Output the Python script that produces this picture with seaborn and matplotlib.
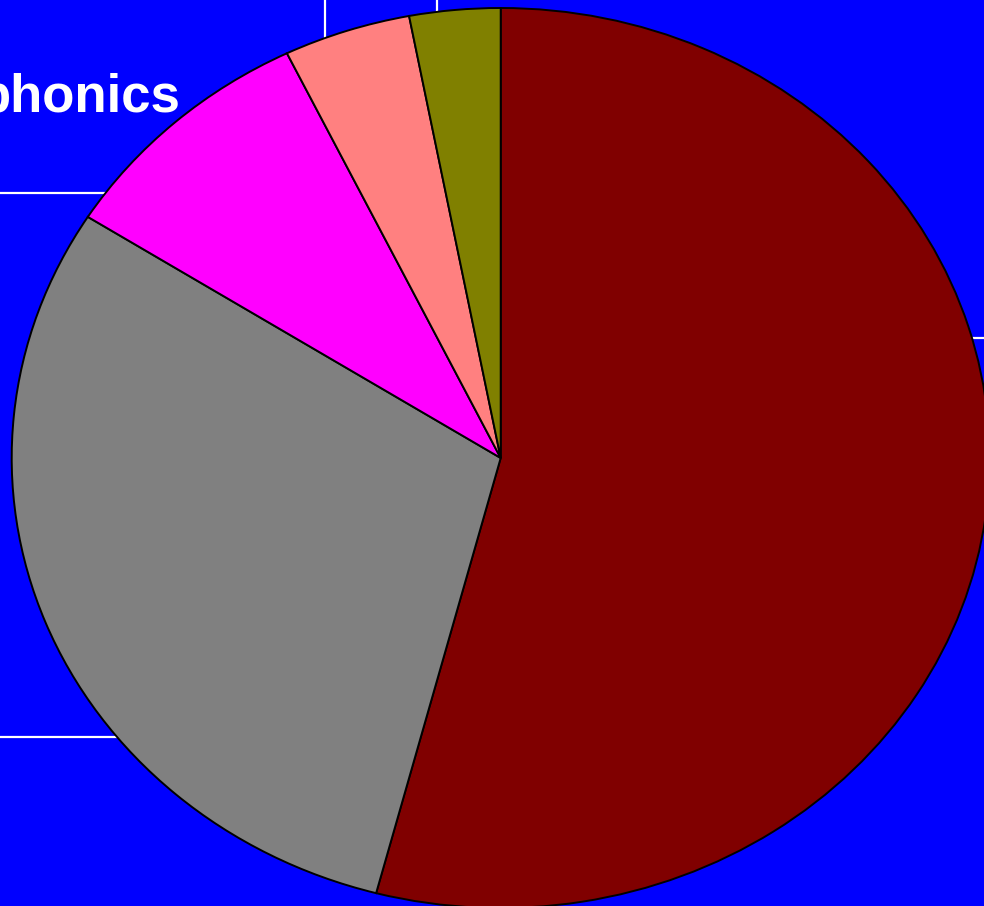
import matplotlib
matplotlib.use("Agg")
import matplotlib.pyplot as plt
import seaborn as sns

# Slice data (clockwise from 12 o'clock)
labels = ['Slice A', 'Slice B', 'Slice C', 'Slice D', 'Slice E']
shares = [54.1, 29.9, 8.8, 4.2, 3.0]
slice_colors = ['#800000', '#808080', '#FF00FF', '#FF8080', '#808000']
title_text = 'phonics'

W, H = 984, 906
# pie centre and radii in pixels (the chart is stretched, not round)
cx, cy = 500.7, 448.0
rx, ry = 489.0, 450.0


def px_x(p):
    """pixel column -> data x"""
    return (p - cx) / rx


def px_y(p):
    """pixel row (from top) -> data y"""
    return ((H - p) - cy) / ry


sns.set_style('white', {'axes.facecolor': '#0000FF'})
plt.rcParams['font.family'] = ['Liberation Sans', 'DejaVu Sans']

fig = plt.figure(figsize=(W / 100, H / 100), dpi=100, facecolor='#0000FF')
ax = fig.add_axes([0, 0, 1, 1])
ax.set_facecolor('#0000FF')

ax.pie(shares, colors=slice_colors, startangle=90, counterclock=False,
       wedgeprops={'edgecolor': 'black', 'linewidth': 1.4})

# leftover white box edges sitting behind the pie
ax.hlines([px_y(193), px_y(737)], px_x(-5), 0, colors='white', lw=1.6, zorder=0)
ax.hlines([px_y(338)], 0, px_x(990), colors='white', lw=1.6, zorder=0)
ax.vlines([px_x(325), px_x(437)], 0, px_y(-5), colors='white', lw=1.6, zorder=0)

ax.set_aspect('auto')
ax.set_xlim(px_x(0), px_x(W))
ax.set_ylim(px_y(H), px_y(0))
ax.set_frame_on(True)
for s in ax.spines.values():
    s.set_visible(False)
ax.set_xticks([])
ax.set_yticks([])

# the title runs off the left edge in the reference as well
fig.text(180 / W, 1 - 112 / H, title_text, color='white', fontsize=38,
         fontweight='bold', ha='right', va='baseline')

fig.savefig('out.png', dpi=100, facecolor=fig.get_facecolor())
